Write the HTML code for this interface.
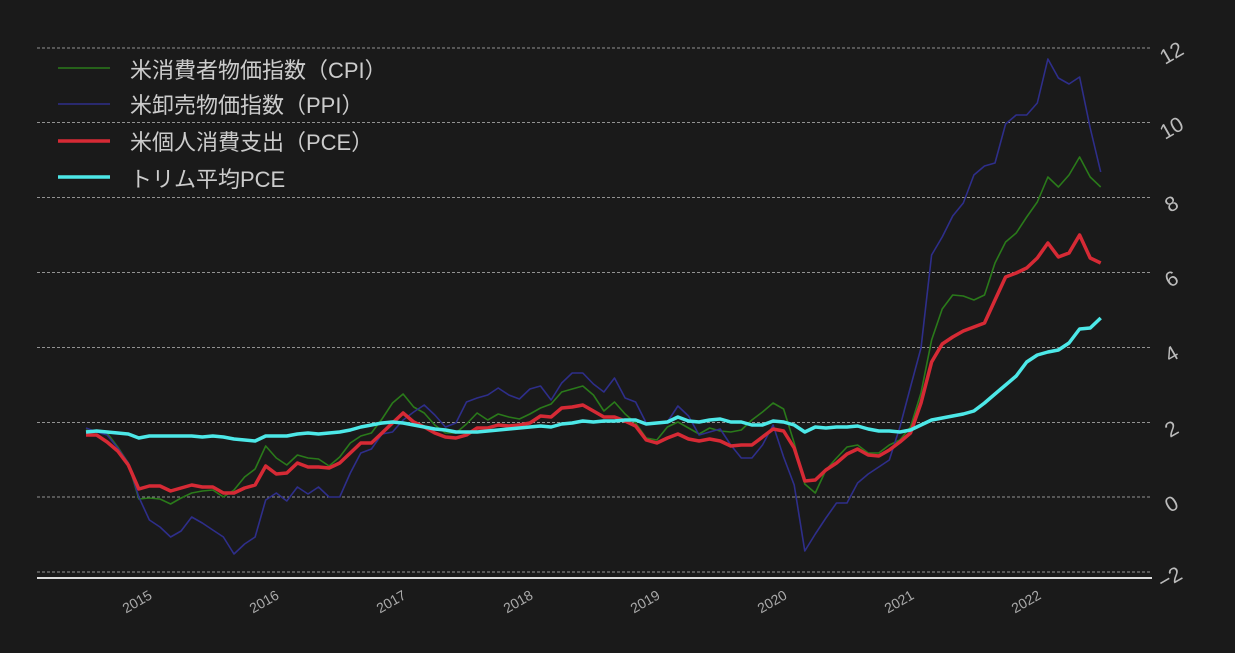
<!DOCTYPE html>
<html><head><meta charset="utf-8"><style>
html,body{margin:0;padding:0;background:#1a1a1a;}
svg{display:block;}
text{font-family:"Liberation Sans","Noto Sans CJK JP",sans-serif;}
</style></head><body>
<svg id="s" width="1235" height="653" xmlns="http://www.w3.org/2000/svg">
<rect width="1235" height="653" fill="#1a1a1a"/>
<g stroke="#bbbbbb" stroke-width="0.8" stroke-dasharray="3,2">
<line x1="37" x2="1152" y1="48" y2="48"/>
<line x1="37" x2="1152" y1="122.5" y2="122.5"/>
<line x1="37" x2="1152" y1="197.5" y2="197.5"/>
<line x1="37" x2="1152" y1="272.5" y2="272.5"/>
<line x1="37" x2="1152" y1="347.5" y2="347.5"/>
<line x1="37" x2="1152" y1="422.5" y2="422.5"/>
<line x1="37" x2="1152" y1="497" y2="497"/>
<line x1="37" x2="1152" y1="572" y2="572"/>
</g>
<line x1="37" x2="1152" y1="578" y2="578" stroke="#dddddd" stroke-width="2"/>
<g fill="#bbbbbb" font-size="21">
<text transform="translate(1165,65) rotate(-30)">12</text>
<text transform="translate(1165,140) rotate(-30)">10</text>
<text transform="translate(1170,213) rotate(-30)">8</text>
<text transform="translate(1170,288) rotate(-30)">6</text>
<text transform="translate(1170,363) rotate(-30)">4</text>
<text transform="translate(1170,438) rotate(-30)">2</text>
<text transform="translate(1170,513) rotate(-30)">0</text>
<text transform="translate(1163,590) rotate(-30)">−2</text>
</g>
<g fill="#aaaaaa" font-size="14" id="xl"></g>
<g id="lines" fill="none" stroke-linejoin="round"></g>
<g font-size="22" fill="#cccccc">
<line x1="58" x2="110" y1="68" y2="68" stroke="#2a7a1a" stroke-width="1.5"/>
<text x="130" y="78">米消費者物価指数（CPI）</text>
<line x1="58" x2="110" y1="104" y2="104" stroke="#2e2e8a" stroke-width="1.5"/>
<text x="130" y="113">米卸売物価指数（PPI）</text>
<line x1="58" x2="110" y1="141" y2="141" stroke="#d62a35" stroke-width="3.5"/>
<text x="130" y="150">米個人消費支出（PCE）</text>
<line x1="58" x2="110" y1="177" y2="177" stroke="#4de8e8" stroke-width="3.5"/>
<text x="130" y="187">トリム平均PCE</text>
</g>
</svg>
<script>
var red=[435,435,442,451,465,489,486,486,491,488,485,487,487,493,493,488,485,466,474,473,463,467,467,468,463,453,443,443,433,423,413,422,427,433,437,438,435,428,
428,425,426,425,423,416,417,408,407,405,411,417,417,421,426,440,443,438,434,439,441,439,441,446,445,445,437,429,431,448,481,480,470,463,454,449,455,456,
450,442,433,403,362,344,337,331,327,323,300,277,273,268,258,243,257,253,235,258,263];
var grn=[430,432,433,447,463,499,498,499,504,498,493,491,490,497,490,477,469,446,458,465,455,458,459,466,457,443,436,433,419,403,394,407,413,425,433,433,424,413,
420,414,417,419,414,408,404,392,389,386,395,411,402,414,423,438,440,427,422,428,434,428,431,432,430,420,412,403,409,443,484,493,470,458,447,445,453,453,
445,440,427,393,340,309,295,296,300,295,263,242,233,217,202,177,187,175,157,177,187];
var blu=[428,432,435,448,463,497,520,527,537,531,517,523,530,537,554,544,537,500,493,501,487,494,487,497,497,473,453,449,434,432,420,412,405,415,427,423,402,398,
395,388,395,399,389,386,400,383,373,373,384,392,378,398,402,423,423,422,406,416,435,432,429,445,458,458,445,425,457,485,551,534,518,503,503,483,474,467,
460,427,387,348,255,237,216,203,175,166,163,124,115,115,103,59,78,84,77,128,172];
var cyn=[432,431,432,433,434,438,436,436,436,436,436,437,436,437,439,440,441,436,436,436,434,433,434,433,432,430,427,425,423,422,423,425,427,429,430,432,432,432,
431,430,429,428,427,426,427,424,423,421,422,421,421,420,420,424,423,422,417,421,422,420,419,422,422,425,425,421,422,425,432,427,428,427,427,426,429,431,
431,432,430,425,420,418,416,414,411,403,394,385,376,362,355,352,350,343,329,328,318];
function pts(a){return a.map(function(y,i){return (86+i*10.57).toFixed(1)+","+y}).join(" ");}
var g=document.getElementById("lines"),ns="http://www.w3.org/2000/svg";
[[grn,"#2a7a1a",1.6],[blu,"#2e2e8a",1.6],[red,"#d62a35",3.5],[cyn,"#4de8e8",3.5]].forEach(function(s){
var p=document.createElementNS(ns,"polyline");p.setAttribute("points",pts(s[0]));p.setAttribute("stroke",s[1]);p.setAttribute("stroke-width",s[2]);g.appendChild(p);});
var xl=document.getElementById("xl");
for(var k=0;k<8;k++){var t=document.createElementNS(ns,"text");var x=153+k*127;
t.setAttribute("transform","translate("+x+",598) rotate(-30)");t.setAttribute("text-anchor","end");t.textContent=2015+k;xl.appendChild(t);}
</script>
</body></html>
